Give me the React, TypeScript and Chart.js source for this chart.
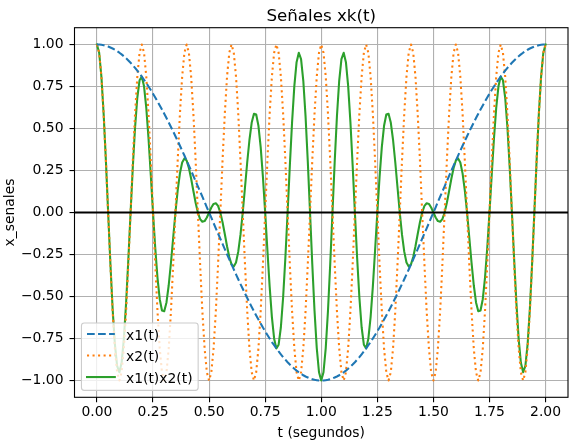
import React, { useEffect, useRef } from "react";
import { Chart, registerables } from "chart.js";

Chart.register(...registerables);

// t (segundos), step 0.01
const T = [
  0, 0.01, 0.02, 0.03, 0.04, 0.05, 0.06, 0.07, 0.08, 0.09,
  0.1, 0.11, 0.12, 0.13, 0.14, 0.15, 0.16, 0.17, 0.18, 0.19,
  0.2, 0.21, 0.22, 0.23, 0.24, 0.25, 0.26, 0.27, 0.28, 0.29,
  0.3, 0.31, 0.32, 0.33, 0.34, 0.35, 0.36, 0.37, 0.38, 0.39,
  0.4, 0.41, 0.42, 0.43, 0.44, 0.45, 0.46, 0.47, 0.48, 0.49,
  0.5, 0.51, 0.52, 0.53, 0.54, 0.55, 0.56, 0.57, 0.58, 0.59,
  0.6, 0.61, 0.62, 0.63, 0.64, 0.65, 0.66, 0.67, 0.68, 0.69,
  0.7, 0.71, 0.72, 0.73, 0.74, 0.75, 0.76, 0.77, 0.78, 0.79,
  0.8, 0.81, 0.82, 0.83, 0.84, 0.85, 0.86, 0.87, 0.88, 0.89,
  0.9, 0.91, 0.92, 0.93, 0.94, 0.95, 0.96, 0.97, 0.98, 0.99,
  1.0, 1.01, 1.02, 1.03, 1.04, 1.05, 1.06, 1.07, 1.08, 1.09,
  1.1, 1.11, 1.12, 1.13, 1.14, 1.15, 1.16, 1.17, 1.18, 1.19,
  1.2, 1.21, 1.22, 1.23, 1.24, 1.25, 1.26, 1.27, 1.28, 1.29,
  1.3, 1.31, 1.32, 1.33, 1.34, 1.35, 1.36, 1.37, 1.38, 1.39,
  1.4, 1.41, 1.42, 1.43, 1.44, 1.45, 1.46, 1.47, 1.48, 1.49,
  1.5, 1.51, 1.52, 1.53, 1.54, 1.55, 1.56, 1.57, 1.58, 1.59,
  1.6, 1.61, 1.62, 1.63, 1.64, 1.65, 1.66, 1.67, 1.68, 1.69,
  1.7, 1.71, 1.72, 1.73, 1.74, 1.75, 1.76, 1.77, 1.78, 1.79,
  1.8, 1.81, 1.82, 1.83, 1.84, 1.85, 1.86, 1.87, 1.88, 1.89,
  1.9, 1.91, 1.92, 1.93, 1.94, 1.95, 1.96, 1.97, 1.98, 1.99,
  2.0,
];

// x1(t)
const X1 = [
  1, 1.0, 0.998, 0.996, 0.992, 0.988, 0.982, 0.976, 0.969, 0.96,
  0.951, 0.941, 0.93, 0.918, 0.905, 0.891, 0.876, 0.861, 0.844, 0.827,
  0.809, 0.79, 0.771, 0.75, 0.729, 0.707, 0.685, 0.661, 0.637, 0.613,
  0.588, 0.562, 0.536, 0.509, 0.482, 0.454, 0.426, 0.397, 0.368, 0.339,
  0.309, 0.279, 0.249, 0.218, 0.187, 0.156, 0.125, 0.094, 0.063, 0.031,
  0, -0.031, -0.063, -0.094, -0.125, -0.156, -0.187, -0.218, -0.249, -0.279,
  -0.309, -0.339, -0.368, -0.397, -0.426, -0.454, -0.482, -0.509, -0.536, -0.562,
  -0.588, -0.613, -0.637, -0.661, -0.685, -0.707, -0.729, -0.75, -0.771, -0.79,
  -0.809, -0.827, -0.844, -0.861, -0.876, -0.891, -0.905, -0.918, -0.93, -0.941,
  -0.951, -0.96, -0.969, -0.976, -0.982, -0.988, -0.992, -0.996, -0.998, -1.0,
  -1, -1.0, -0.998, -0.996, -0.992, -0.988, -0.982, -0.976, -0.969, -0.96,
  -0.951, -0.941, -0.93, -0.918, -0.905, -0.891, -0.876, -0.861, -0.844, -0.827,
  -0.809, -0.79, -0.771, -0.75, -0.729, -0.707, -0.685, -0.661, -0.637, -0.613,
  -0.588, -0.562, -0.536, -0.509, -0.482, -0.454, -0.426, -0.397, -0.368, -0.339,
  -0.309, -0.279, -0.249, -0.218, -0.187, -0.156, -0.125, -0.094, -0.063, -0.031,
  0, 0.031, 0.063, 0.094, 0.125, 0.156, 0.187, 0.218, 0.249, 0.279,
  0.309, 0.339, 0.368, 0.397, 0.426, 0.454, 0.482, 0.509, 0.536, 0.562,
  0.588, 0.613, 0.637, 0.661, 0.685, 0.707, 0.729, 0.75, 0.771, 0.79,
  0.809, 0.827, 0.844, 0.861, 0.876, 0.891, 0.905, 0.918, 0.93, 0.941,
  0.951, 0.96, 0.969, 0.976, 0.982, 0.988, 0.992, 0.996, 0.998, 1.0,
  1,
];

// x2(t)
const X2 = [
  1, 0.951, 0.809, 0.588, 0.309, 0, -0.309, -0.588, -0.809, -0.951, -1, -0.951, -0.809, -0.588, -0.309, 0, 0.309, 0.588, 0.809, 0.951,
  1, 0.951, 0.809, 0.588, 0.309, 0, -0.309, -0.588, -0.809, -0.951, -1, -0.951, -0.809, -0.588, -0.309, 0, 0.309, 0.588, 0.809, 0.951,
  1, 0.951, 0.809, 0.588, 0.309, 0, -0.309, -0.588, -0.809, -0.951, -1, -0.951, -0.809, -0.588, -0.309, 0, 0.309, 0.588, 0.809, 0.951,
  1, 0.951, 0.809, 0.588, 0.309, 0, -0.309, -0.588, -0.809, -0.951, -1, -0.951, -0.809, -0.588, -0.309, 0, 0.309, 0.588, 0.809, 0.951,
  1, 0.951, 0.809, 0.588, 0.309, 0, -0.309, -0.588, -0.809, -0.951, -1, -0.951, -0.809, -0.588, -0.309, 0, 0.309, 0.588, 0.809, 0.951,
  1, 0.951, 0.809, 0.588, 0.309, 0, -0.309, -0.588, -0.809, -0.951, -1, -0.951, -0.809, -0.588, -0.309, 0, 0.309, 0.588, 0.809, 0.951,
  1, 0.951, 0.809, 0.588, 0.309, 0, -0.309, -0.588, -0.809, -0.951, -1, -0.951, -0.809, -0.588, -0.309, 0, 0.309, 0.588, 0.809, 0.951,
  1, 0.951, 0.809, 0.588, 0.309, 0, -0.309, -0.588, -0.809, -0.951, -1, -0.951, -0.809, -0.588, -0.309, 0, 0.309, 0.588, 0.809, 0.951,
  1, 0.951, 0.809, 0.588, 0.309, 0, -0.309, -0.588, -0.809, -0.951, -1, -0.951, -0.809, -0.588, -0.309, 0, 0.309, 0.588, 0.809, 0.951,
  1, 0.951, 0.809, 0.588, 0.309, 0, -0.309, -0.588, -0.809, -0.951, -1, -0.951, -0.809, -0.588, -0.309, 0, 0.309, 0.588, 0.809, 0.951,
  1,
];

// x1(t)x2(t)
const X1X2 = [
  1, 0.951, 0.807, 0.585, 0.307, 0, -0.304, -0.574, -0.784, -0.913,
  -0.951, -0.895, -0.752, -0.539, -0.28, 0, 0.271, 0.506, 0.683, 0.787,
  0.809, 0.751, 0.623, 0.441, 0.225, 0, -0.212, -0.389, -0.516, -0.583,
  -0.588, -0.535, -0.433, -0.299, -0.149, 0, 0.132, 0.233, 0.298, 0.322,
  0.309, 0.265, 0.201, 0.128, 0.058, 0, -0.039, -0.055, -0.051, -0.03,
  0, 0.03, 0.051, 0.055, 0.039, 0, -0.058, -0.128, -0.201, -0.265,
  -0.309, -0.322, -0.298, -0.233, -0.132, 0, 0.149, 0.299, 0.433, 0.535,
  0.588, 0.583, 0.516, 0.389, 0.212, 0, -0.225, -0.441, -0.623, -0.751,
  -0.809, -0.787, -0.683, -0.506, -0.271, 0, 0.28, 0.539, 0.752, 0.895,
  0.951, 0.913, 0.784, 0.574, 0.304, 0, -0.307, -0.585, -0.807, -0.951,
  -1, -0.951, -0.807, -0.585, -0.307, 0, 0.304, 0.574, 0.784, 0.913,
  0.951, 0.895, 0.752, 0.539, 0.28, 0, -0.271, -0.506, -0.683, -0.787,
  -0.809, -0.751, -0.623, -0.441, -0.225, 0, 0.212, 0.389, 0.516, 0.583,
  0.588, 0.535, 0.433, 0.299, 0.149, 0, -0.132, -0.233, -0.298, -0.322,
  -0.309, -0.265, -0.201, -0.128, -0.058, 0, 0.039, 0.055, 0.051, 0.03,
  0, -0.03, -0.051, -0.055, -0.039, 0, 0.058, 0.128, 0.201, 0.265,
  0.309, 0.322, 0.298, 0.233, 0.132, 0, -0.149, -0.299, -0.433, -0.535,
  -0.588, -0.583, -0.516, -0.389, -0.212, 0, 0.225, 0.441, 0.623, 0.751,
  0.809, 0.787, 0.683, 0.506, 0.271, 0, -0.28, -0.539, -0.752, -0.895,
  -0.951, -0.913, -0.784, -0.574, -0.304, 0, 0.307, 0.585, 0.807, 0.951,
  1,
];

const SERIES_LABELS = ["x1(t)", "x2(t)", "x1(t)x2(t)"];
const X_TICKS = [0, 0.25, 0.5, 0.75, 1.0, 1.25, 1.5, 1.75, 2.0];
const Y_TICKS = [-1.0, -0.75, -0.5, -0.25, 0, 0.25, 0.5, 0.75, 1.0];
const TITLE = "Señales xk(t)";
const X_TITLE = "t (segundos)";
const Y_TITLE = "x_senales";

const FONT = '"DejaVu Sans", "Liberation Sans", sans-serif';
const FS = 13.9;
const W = 575;
const H = 442;

const fmt = (v: number) => {
  const s = Math.abs(v).toFixed(2);
  return v < 0 ? "\u2212" + s : s;
};

const overlayPlugin = {
  id: "mplOverlay",
  afterDatasetsDraw(chart: any) {
    const { ctx, chartArea: a, scales } = chart;
    ctx.save();
    ctx.beginPath();
    ctx.rect(a.left, a.top, a.right - a.left, a.bottom - a.top);
    ctx.clip();
    const y0 = scales.y.getPixelForValue(0);
    ctx.strokeStyle = "#000";
    ctx.lineWidth = 2.08;
    ctx.setLineDash([]);
    ctx.beginPath();
    ctx.moveTo(a.left, y0);
    ctx.lineTo(a.right, y0);
    ctx.stroke();
    ctx.restore();

    // spines
    ctx.save();
    ctx.strokeStyle = "#000";
    ctx.lineWidth = 1.1;
    ctx.strokeRect(a.left, a.top, a.right - a.left, a.bottom - a.top);
    ctx.restore();

    // legend (lower left)
    ctx.save();
    ctx.font = `${FS}px ${FONT}`;
    const ds = chart.data.datasets;
    let maxW = 0;
    ds.forEach((d: any) => {
      maxW = Math.max(maxW, ctx.measureText(d.label).width);
    });
    const pad = 5.56;
    const handleLen = 27.8;
    const textPad = 11.1;
    const rowH = 21.5;
    const lx = a.left + 6.95;
    const lb = a.bottom - 6.95;
    const lw = pad + handleLen + textPad + maxW + pad;
    const lh = 67.3;
    const ly = lb - lh;
    ctx.beginPath();
    if ((ctx as any).roundRect) (ctx as any).roundRect(lx, ly, lw, lh, 2.8);
    else ctx.rect(lx, ly, lw, lh);
    ctx.fillStyle = "rgba(255,255,255,0.8)";
    ctx.fill();
    ctx.strokeStyle = "#cccccc";
    ctx.lineWidth = 1.1;
    ctx.stroke();
    ds.forEach((d: any, i: number) => {
      const hy = ly + 11 + i * rowH;
      ctx.save();
      ctx.strokeStyle = d.borderColor;
      ctx.lineWidth = d.borderWidth;
      ctx.lineCap = d.borderCapStyle || "butt";
      ctx.setLineDash(d.borderDash || []);
      ctx.beginPath();
      ctx.moveTo(lx + pad, hy);
      ctx.lineTo(lx + pad + handleLen, hy);
      ctx.stroke();
      ctx.restore();
      ctx.fillStyle = "#000";
      ctx.textAlign = "left";
      ctx.textBaseline = "alphabetic";
      ctx.fillText(d.label, lx + pad + handleLen + textPad, hy + 5.6);
    });
    ctx.restore();
  },
  afterDraw(chart: any) {
    const { ctx, chartArea: a } = chart;
    ctx.save();
    ctx.fillStyle = "#000";
    ctx.textAlign = "center";
    ctx.textBaseline = "alphabetic";
    ctx.font = `16.7px ${FONT}`;
    ctx.fillText(TITLE, (a.left + a.right) / 2, 20.5);
    ctx.font = `${FS}px ${FONT}`;
    ctx.fillText(X_TITLE, (a.left + a.right) / 2, 436.5);
    ctx.translate(14.2, (a.top + a.bottom) / 2);
    ctx.rotate(-Math.PI / 2);
    ctx.fillText(Y_TITLE, 0, 0);
    ctx.restore();
  },
};

export default function App() {
  const ref = useRef<HTMLCanvasElement | null>(null);

  useEffect(() => {
    document.body.style.margin = "0";
    const canvas = ref.current;
    if (!canvas) return;
    const mk = (ys: number[]) => T.map((t, i) => ({ x: t, y: ys[i] }));
    const chart = new Chart(canvas, {
      type: "line",
      data: {
        datasets: [
          {
            label: SERIES_LABELS[0],
            data: mk(X1),
            borderColor: "#1f77b4",
            borderWidth: 2.08,
            borderDash: [7.71, 3.33],
            borderCapStyle: "butt",
            borderJoinStyle: "round",
            pointRadius: 0,
            fill: false,
            tension: 0,
          },
          {
            label: SERIES_LABELS[1],
            data: mk(X2),
            borderColor: "#ff7f0e",
            borderWidth: 2.08,
            borderDash: [2.08, 3.44],
            borderCapStyle: "butt",
            borderJoinStyle: "round",
            pointRadius: 0,
            fill: false,
            tension: 0,
          },
          {
            label: SERIES_LABELS[2],
            data: mk(X1X2),
            borderColor: "#2ca02c",
            borderWidth: 2.08,
            borderCapStyle: "square",
            borderJoinStyle: "round",
            pointRadius: 0,
            fill: false,
            tension: 0,
          },
        ],
      },
      options: {
        animation: false,
        responsive: false,
        devicePixelRatio: 1,
        layout: { padding: { left: 0, right: 7, top: 27.7, bottom: 0 } },
        plugins: {
          legend: { display: false },
          title: { display: false },
          tooltip: { enabled: false },
        },
        scales: {
          x: {
            type: "linear",
            min: -0.1,
            max: 2.1,
            afterBuildTicks: (s: any) => {
              s.ticks = X_TICKS.map((v) => ({ value: v }));
            },
            afterFit: (s: any) => {
              s.height = 44.7;
            },
            ticks: {
              color: "#000",
              font: { family: FONT, size: FS },
              padding: 2,
              maxRotation: 0,
              autoSkip: false,
              callback: (v: any) => fmt(Number(v)),
            },
            grid: {
              color: "#b0b0b0",
              lineWidth: 1.1,
              tickColor: "#000",
              tickWidth: 1.1,
              tickLength: 5,
              drawTicks: true,
            },
            border: { display: false },
          },
          y: {
            type: "linear",
            min: -1.1,
            max: 1.1,
            afterBuildTicks: (s: any) => {
              s.ticks = Y_TICKS.map((v) => ({ value: v }));
            },
            afterFit: (s: any) => {
              s.width = 74.5;
            },
            ticks: {
              color: "#000",
              font: { family: FONT, size: FS },
              padding: 6,
              autoSkip: false,
              callback: (v: any) => fmt(Number(v)),
            },
            grid: {
              color: "#b0b0b0",
              lineWidth: 1.1,
              tickColor: "#000",
              tickWidth: 1.1,
              tickLength: 5,
              drawTicks: true,
            },
            border: { display: false },
          },
        },
      },
      plugins: [overlayPlugin],
    } as any);
    return () => chart.destroy();
  }, []);

  return (
    <div style={{ position: "absolute", left: 0, top: 0, width: W, height: H, background: "#fff" }}>
      <canvas ref={ref} width={W} height={H} style={{ width: W, height: H, display: "block" }} />
    </div>
  );
}
